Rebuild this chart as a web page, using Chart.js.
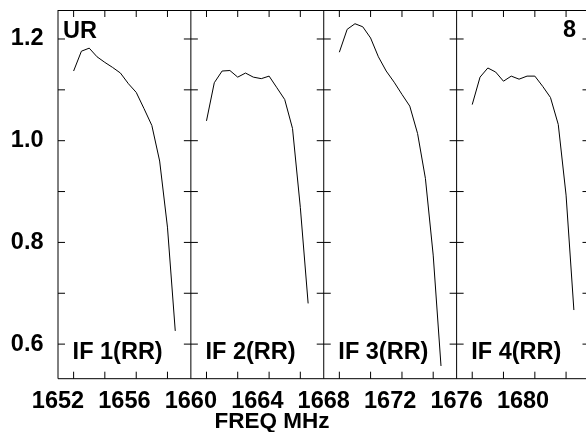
<!DOCTYPE html>
<html>
<head>
<meta charset="utf-8">
<script src="https://cdn.jsdelivr.net/npm/chart.js@4.4.1/dist/chart.umd.min.js"></script>
<style>
html,body{margin:0;padding:0;background:#fff;}
#wrap{width:586px;height:432px;}
</style>
</head>
<body>
<div id="wrap"><canvas id="c" width="586" height="432"></canvas></div>
<script>
// ---- data ----
const panelLabels = ['IF 1(RR)', 'IF 2(RR)', 'IF 3(RR)', 'IF 4(RR)'];
const panelStarts = [1652, 1660, 1668, 1676];
const panelEnds = [1660, 1668, 1676, 1684];

const freqIF1 = [1652.94, 1653.41, 1653.88, 1654.35, 1654.82, 1655.29, 1655.76, 1656.24, 1656.71, 1657.18, 1657.65, 1658.12, 1658.59, 1659.06];
const freqIF2 = [1660.94, 1661.41, 1661.88, 1662.35, 1662.82, 1663.29, 1663.76, 1664.24, 1664.71, 1665.18, 1665.65, 1666.12, 1666.59, 1667.06];
const freqIF3 = [1668.94, 1669.41, 1669.88, 1670.35, 1670.82, 1671.29, 1671.76, 1672.24, 1672.71, 1673.18, 1673.65, 1674.12, 1674.59, 1675.06];
const freqIF4 = [1676.94, 1677.41, 1677.88, 1678.35, 1678.82, 1679.29, 1679.76, 1680.24, 1680.71, 1681.18, 1681.65, 1682.12, 1682.59, 1683.06];

const ampIF1 = [1.137, 1.176, 1.182, 1.165, 1.154, 1.144, 1.133, 1.112, 1.095, 1.063, 1.030, 0.960, 0.830, 0.626];
const ampIF2 = [1.039, 1.114, 1.137, 1.138, 1.125, 1.133, 1.125, 1.122, 1.127, 1.104, 1.081, 1.024, 0.869, 0.680];
const ampIF3 = [1.174, 1.219, 1.230, 1.224, 1.202, 1.165, 1.137, 1.115, 1.091, 1.068, 1.014, 0.926, 0.775, 0.557];
const ampIF4 = [1.071, 1.125, 1.143, 1.135, 1.117, 1.127, 1.121, 1.127, 1.127, 1.107, 1.085, 1.032, 0.893, 0.667];

const xTickValues = [1652, 1656, 1660, 1664, 1668, 1672, 1676, 1680];
const xTickLabels = ['1652', '1656', '1660', '1664', '1668', '1672', '1676', '1680'];
const channelTickFreqs = [1652.94, 1654.82, 1656.71, 1658.59, 1660.94, 1662.82, 1664.71, 1666.59,
                          1668.94, 1670.82, 1672.71, 1674.59, 1676.94, 1678.82, 1680.71, 1682.59];
const yTickValues = [0.6, 0.7, 0.8, 0.9, 1.0, 1.1, 1.2];
const yTickLabels = ['0.6', '', '0.8', '', '1.0', '', '1.2'];

const cornerLeftText = 'UR';
const cornerRightText = '8';
const xTitleText = 'FREQ MHz';

// ---- chart ----
const FONT = '"Liberation Sans", Arial, Helvetica, sans-serif';
const toPts = (fx, fy) => fx.map((f, i) => ({x: f, y: fy[i]}));
const series = [[freqIF1, ampIF1], [freqIF2, ampIF2], [freqIF3, ampIF3], [freqIF4, ampIF4]];

const framePlugin = {
  id: 'framePlugin',
  afterDraw(chart) {
    const ctx = chart.ctx;
    const xs = chart.scales.x, ys = chart.scales.y;
    const a = chart.chartArea;
    const T = 7;
    ctx.save();
    ctx.strokeStyle = '#000';
    ctx.lineWidth = 1;
    ctx.beginPath();
    ctx.moveTo(a.left, a.top + 0.5); ctx.lineTo(a.right, a.top + 0.5);
    ctx.moveTo(a.left, a.bottom); ctx.lineTo(a.right, a.bottom);
    const borders = [panelStarts[0]].concat(panelEnds);
    borders.forEach(b => {
      const px = xs.getPixelForValue(b);
      ctx.moveTo(px, a.top); ctx.lineTo(px, a.bottom);
    });
    yTickValues.forEach(v => {
      const py = ys.getPixelForValue(v);
      borders.forEach((b, i) => {
        const px = xs.getPixelForValue(b);
        if (i === 0) { ctx.moveTo(px, py); ctx.lineTo(px + T, py); }
        else { ctx.moveTo(px - T, py); ctx.lineTo(px + T, py); }
      });
    });
    channelTickFreqs.forEach(f => {
      const px = xs.getPixelForValue(f);
      ctx.moveTo(px, a.top); ctx.lineTo(px, a.top + T);
      ctx.moveTo(px, a.bottom); ctx.lineTo(px, a.bottom - T);
    });
    ctx.stroke();

    ctx.fillStyle = '#000';
    ctx.font = 'bold 23.5px ' + FONT;
    ctx.textBaseline = 'alphabetic';
    ctx.textAlign = 'left';
    ctx.fillText(cornerLeftText, a.left + 5, 37.5);
    ctx.textAlign = 'right';
    ctx.fillText(cornerRightText, 576, 37);
    ctx.textAlign = 'left';
    panelLabels.forEach((t, i) => {
      const px = xs.getPixelForValue(channelTickFreqs[i * 4]);
      ctx.fillText(t, px - 1, 358.5);
    });
    ctx.font = 'bold 22.5px ' + FONT;
    ctx.textAlign = 'center';
    ctx.fillText(xTitleText, 272, 427.5);
    ctx.restore();
  }
};

new Chart(document.getElementById('c'), {
  type: 'line',
  data: {
    datasets: series.map(([fx, fy], i) => ({
      label: panelLabels[i],
      data: toPts(fx, fy),
      borderColor: '#000',
      borderWidth: 1,
      pointRadius: 0,
      tension: 0,
      fill: false
    }))
  },
  options: {
    responsive: false,
    animation: false,
    devicePixelRatio: 1,
    layout: {padding: {top: 10, left: 0, right: 0, bottom: 0}},
    plugins: {legend: {display: false}, tooltip: {enabled: false}, title: {display: false}},
    scales: {
      x: {
        type: 'linear',
        position: 'bottom',
        min: 1652,
        max: 1683.79,
        afterBuildTicks: s => { s.ticks = xTickValues.map(v => ({value: v})); },
        afterFit: s => { s.height = 53.3; s.paddingLeft = 0; s.paddingRight = 0; },
        grid: {display: false, drawTicks: false},
        border: {display: false},
        ticks: {
          autoSkip: false,
          maxRotation: 0,
          padding: 9,
          color: '#000',
          font: {family: FONT, size: 23.5, weight: 'bold'},
          callback: (v) => xTickLabels[xTickValues.indexOf(v)] ?? ''
        }
      },
      y: {
        type: 'linear',
        min: 0.532,
        max: 1.257,
        afterBuildTicks: s => { s.ticks = yTickValues.map(v => ({value: v})); },
        afterFit: s => { s.width = 58; s.paddingTop = 0; s.paddingBottom = 0; },
        grid: {display: false, drawTicks: false},
        border: {display: false},
        ticks: {
          autoSkip: false,
          padding: 14.5,
          color: '#000',
          font: {family: FONT, size: 23.5, weight: 'bold'},
          callback: (v, i) => yTickLabels[i]
        }
      }
    }
  },
  plugins: [framePlugin]
});
</script>
</body>
</html>
